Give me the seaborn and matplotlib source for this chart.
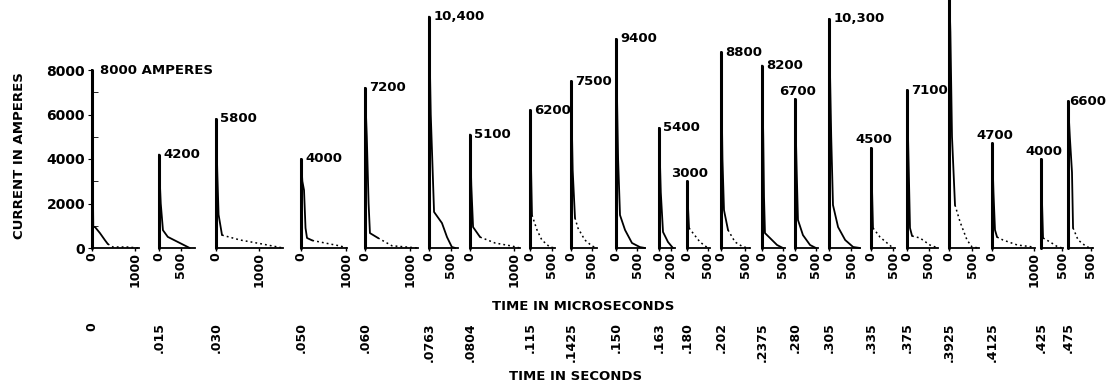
"""
Lightning stroke current oscillograms: 22 successive strokes of one flash,
each with its own microsecond time axis, placed along the flash time line.
"""
import matplotlib
matplotlib.use("Agg")
import matplotlib.pyplot as plt
import seaborn as sns

# --- data ------------------------------------------------------------------
SECONDS = ["0", ".015", ".030", ".050", ".060", ".0763", ".0804", ".115",
           ".1425", ".150", ".163", ".180", ".202", ".2375", ".280", ".305",
           ".335", ".375", ".3925", ".4125", ".425", ".475"]
PEAKS = [8000, 4200, 5800, 4000, 7200, 10400, 5100, 6200, 7500, 9400, 5400,
         3000, 8800, 8200, 6700, 10300, 4500, 7100, 12000, 4700, 4000, 6600]
PEAK_LABELS = ["8000 AMPERES", "4200", "5800", "4000", "7200", "10,400",
               "5100", "6200", "7500", "9400", "5400", "3000", "8800", "8200",
               "6700", "10,300", "4500", "7100", "", "4700", "4000", "6600"]
US_TICK = [1000, 500, 1000, 1000, 1000, 500, 1000, 500, 500, 500, 200,
           500, 500, 500, 500, 500, 500, 500, 500, 1000, 500, 500]
US_END = [1100, 820, 1560, 1020, 1180, 660, 1140, 570, 620, 690, 267,
          550, 600, 550, 550, 700, 545, 705, 650, 1020, 520, 545]
SHOW_ZERO = [True] * 20 + [False, False]
Y_TICKS = [0, 2000, 4000, 6000, 8000]

# solid part of each trace after the initial rise (microseconds, amperes)
SOLID_T = [[23, 30, 70, 186, 300, 370], [20, 40, 90, 200, 480, 700],
           [30, 60, 140], [30, 67, 100, 133, 250], [40, 80, 110, 290],
           [40, 115, 295, 410, 520, 600], [30, 70, 230], [20, 45], [40, 95],
           [50, 95, 215, 380, 570, 690], [30, 67, 150, 233], [20, 48],
           [30, 62, 145], [30, 48, 71, 190, 360, 500], [40, 71, 190, 360, 500],
           [50, 90, 205, 365, 545, 700], [25, 45], [45, 68, 115],
           [30, 65, 130], [35, 71, 120], [25, 48], [40, 87, 110]]
SOLID_I = [[2250, 944, 944, 670, 360, 180], [2900, 2000, 800, 500, 220, 0],
           [3400, 1500, 580], [3000, 2600, 900, 450, 340], [5000, 2000, 670, 450],
           [6000, 1620, 1120, 490, 45, 0], [2800, 940, 490], [4000, 1480],
           [3500, 1350], [4000, 1480, 810, 225, 40, 0], [2500, 720, 270, 0],
           [2000, 900], [4000, 1700, 810], [5000, 2300, 670, 450, 135, 0],
           [3500, 1260, 580, 135, 0], [5000, 1930, 940, 360, 45, 0],
           [2500, 900], [3050, 900, 540], [9700, 5000, 1930],
           [2500, 810, 490], [2000, 450], [5000, 3400, 900]]

# dotted tails
DOT_T = [[370, 490, 815, 1100], [], [140, 560, 1020, 1560],
         [250, 420, 870, 1020], [290, 600, 1180], [], [230, 570, 950, 1140],
         [45, 160, 270, 450, 570], [95, 165, 330, 500, 620], [], [],
         [48, 143, 310, 500], [145, 290, 460, 600], [], [], [],
         [45, 205, 365, 500], [115, 295, 520, 705], [130, 240, 390, 500, 650],
         [120, 260, 600, 980], [48, 215, 400, 520], [110, 220, 410, 545]]
DOT_I = [[180, 45, 45, 0], [], [580, 360, 200, 0], [340, 270, 90, 0],
         [450, 100, 0], [], [490, 225, 90, 0], [1480, 810, 360, 45, 0],
         [1350, 900, 360, 90, 0], [], [], [900, 670, 270, 0],
         [810, 270, 45, 0], [], [], [], [900, 490, 225, 0],
         [540, 450, 135, 0], [1930, 1170, 360, 45, 0], [490, 360, 135, 45],
         [450, 270, 45, 0], [900, 360, 45, 0]]

# --- layout (pixels of the 1108x386 canvas) ---------------------------------
W, H = 1108, 386
ORIGIN_PX = [92, 159, 216, 301, 365, 429, 470, 530, 571, 616, 659, 687, 721,
             762, 795, 829, 871, 907, 949, 992, 1041, 1068]
END_PX = [139, 195, 283, 347, 418, 458, 520, 555, 597, 645, 675, 710, 750,
          785, 818, 860, 895, 938, 979, 1035, 1063, 1093]
ABOVE = {11, 14, 16, 19, 20}     # labels sitting centred over the peak
BASE_Y = 248                     # baseline, px from top
PX_PER_AMP = 0.02225
Y_TOP = BASE_Y / PX_PER_AMP

sns.set_style("white")
plt.rcParams["font.family"] = ["DejaVu Sans"]
plt.rcParams["font.weight"] = "bold"
plt.rcParams["text.color"] = "black"

fig = plt.figure(figsize=(W / 100, H / 100), dpi=100)
fig.patch.set_facecolor("white")

for i in range(len(PEAKS)):
    x0, x1 = ORIGIN_PX[i], END_PX[i]
    ax = fig.add_axes([x0 / W, (H - BASE_Y) / H, (x1 - x0) / W, BASE_Y / H])
    ax.set_facecolor("none")
    ax.set_xlim(0, US_END[i])
    ax.set_ylim(0, Y_TOP)

    # main stroke: thick rise, thinner decay
    sns.lineplot(x=[0, 0], y=[0, PEAKS[i]], estimator=None, sort=False,
                 ax=ax, color="black", lw=2.2, clip_on=False)
    ts = [0] + SOLID_T[i]
    cs = [PEAKS[i]] + SOLID_I[i]
    sns.lineplot(x=ts, y=cs, estimator=None, sort=False, ax=ax,
                 color="black", lw=1.3, clip_on=False)
    if DOT_T[i]:
        sns.lineplot(x=DOT_T[i], y=DOT_I[i], estimator=None, sort=False,
                     ax=ax, color="black", lw=1.1, ls=(0, (1.2, 2.0)),
                     clip_on=False)

    # peak annotation
    if PEAK_LABELS[i]:
        if i in ABOVE:
            ax.annotate(PEAK_LABELS[i], xy=(0, PEAKS[i]), xytext=(2, 1),
                        textcoords="offset points", ha="center", va="bottom",
                        fontsize=9.5, fontweight="bold", color="black")
        else:
            dx = 6 if i == 0 else (1 if i == len(PEAKS) - 1 else 3)
            ax.annotate(PEAK_LABELS[i], xy=(0, PEAKS[i]), xytext=(dx, 0),
                        textcoords="offset points", ha="left", va="center",
                        fontsize=9.5, fontweight="bold", color="black")

    sns.despine(ax=ax, top=True, right=True, left=(i != 0))
    ax.spines["bottom"].set_linewidth(1.3)
    ax.spines["bottom"].set_color("black")

    xt = [0, US_TICK[i]] if SHOW_ZERO[i] else [US_TICK[i]]
    ax.set_xticks(xt)
    ax.set_xticklabels([str(v) for v in xt], rotation=90, fontsize=9,
                       fontweight="bold")
    ax.tick_params(axis="x", length=2, width=1, pad=1, direction="out",
                   bottom=True, colors="black")

    if i == 0:
        ax.spines["left"].set_bounds(0, 8000)
        ax.spines["left"].set_linewidth(1.3)
        ax.spines["left"].set_color("black")
        ax.set_yticks(Y_TICKS)
        ax.set_yticklabels([str(v) for v in Y_TICKS], fontsize=10,
                           fontweight="bold")
        ax.set_yticks([1000, 3000, 5000, 7000], minor=True)
        ax.tick_params(axis="y", which="major", length=3, pad=2,
                       direction="out", left=True, colors="black")
        ax.tick_params(axis="y", which="minor", length=4, direction="in",
                       left=True, colors="black")
    else:
        ax.set_yticks([])
    ax.set_xlabel("")
    ax.set_ylabel("")

    # flash time (seconds) under each oscillogram
    fig.text(x0 / W, 1 - 322 / H, SECONDS[i], rotation=90, ha="center",
             va="top", fontsize=9, fontweight="bold", color="black")

fig.text(583 / W, 1 - 307 / H, "TIME IN MICROSECONDS", ha="center",
         va="center", fontsize=9.5, fontweight="bold", color="black")
fig.text(576 / W, 1 - 377 / H, "TIME IN SECONDS", ha="center", va="center",
         fontsize=9.5, fontweight="bold", color="black")
fig.text(20 / W, 1 - 156 / H, "CURRENT IN AMPERES", rotation=90,
         ha="center", va="center", fontsize=9.5, fontweight="bold",
         color="black")

fig.savefig("out.png", dpi=100, facecolor="white")
